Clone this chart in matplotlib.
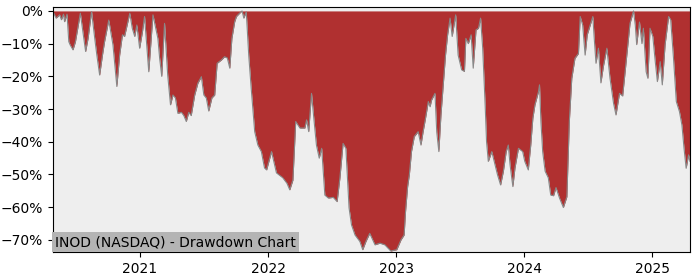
import matplotlib
matplotlib.use("Agg")
import matplotlib.pyplot as plt
import matplotlib.dates as mdates
from matplotlib.ticker import PercentFormatter
import pandas as pd

# drawdown of INOD (percent below running high)
dates = [
    "2020-04-28", "2020-04-30", "2020-05-07", "2020-05-17", "2020-05-22", "2020-05-28",
    "2020-05-31", "2020-06-07", "2020-06-12", "2020-06-16", "2020-06-24", "2020-07-01",
    "2020-07-15", "2020-07-30", "2020-08-06", "2020-08-16", "2020-08-25", "2020-08-31",
    "2020-09-08", "2020-09-16", "2020-09-22", "2020-10-04", "2020-10-16", "2020-10-27",
    "2020-11-04", "2020-11-12", "2020-11-18", "2020-12-03", "2020-12-10", "2020-12-17",
    "2020-12-23", "2020-12-31", "2021-01-08", "2021-01-14", "2021-01-26", "2021-02-07",
    "2021-02-21", "2021-02-26", "2021-03-04", "2021-03-12", "2021-03-21", "2021-03-29",
    "2021-04-05", "2021-04-12", "2021-04-19", "2021-04-29", "2021-05-06", "2021-05-13",
    "2021-05-20", "2021-05-27", "2021-06-06", "2021-06-15", "2021-06-25", "2021-07-02",
    "2021-07-09", "2021-07-16", "2021-07-25", "2021-08-02", "2021-08-09", "2021-08-21",
    "2021-08-30", "2021-09-07", "2021-09-14", "2021-09-20", "2021-09-28", "2021-10-03",
    "2021-10-12", "2021-10-19", "2021-10-24", "2021-10-31", "2021-11-07", "2021-11-14",
    "2021-11-24", "2021-12-03", "2021-12-13", "2021-12-22", "2021-12-28", "2022-01-11",
    "2022-01-25", "2022-02-12", "2022-02-24", "2022-03-04", "2022-03-13", "2022-03-21",
    "2022-04-02", "2022-04-16", "2022-04-21", "2022-04-27", "2022-05-05", "2022-05-12",
    "2022-05-19", "2022-05-27", "2022-06-03", "2022-06-12", "2022-06-22", "2022-07-06",
    "2022-07-17", "2022-07-25", "2022-08-03", "2022-08-11", "2022-08-20", "2022-08-27",
    "2022-09-06", "2022-09-20", "2022-09-28", "2022-10-07", "2022-10-18", "2022-11-02",
    "2022-11-16", "2022-11-30", "2022-12-17", "2023-01-03", "2023-01-15", "2023-01-24",
    "2023-01-28", "2023-02-03", "2023-02-08", "2023-02-14", "2023-02-22", "2023-03-05",
    "2023-03-13", "2023-03-19", "2023-03-26", "2023-04-03", "2023-04-08", "2023-04-12",
    "2023-04-22", "2023-04-27", "2023-05-03", "2023-05-09", "2023-05-16", "2023-05-22",
    "2023-05-28", "2023-06-04", "2023-06-10", "2023-06-20", "2023-06-27", "2023-07-07",
    "2023-07-15", "2023-07-19", "2023-07-26", "2023-08-03", "2023-08-09", "2023-08-17",
    "2023-08-24", "2023-08-30", "2023-09-05", "2023-09-12", "2023-09-16", "2023-09-21",
    "2023-10-01", "2023-10-10", "2023-10-17", "2023-10-26", "2023-11-03", "2023-11-11",
    "2023-11-17", "2023-11-22", "2023-11-30", "2023-12-06", "2023-12-16", "2023-12-28",
    "2024-01-03", "2024-01-13", "2024-01-20", "2024-01-26", "2024-02-01", "2024-02-11",
    "2024-02-14", "2024-02-18", "2024-02-23", "2024-03-01", "2024-03-10", "2024-03-17",
    "2024-03-25", "2024-04-01", "2024-04-11", "2024-04-22", "2024-05-02", "2024-05-09",
    "2024-05-16", "2024-05-25", "2024-06-04", "2024-06-09", "2024-06-16", "2024-06-23",
    "2024-06-29", "2024-07-09", "2024-07-15", "2024-07-19", "2024-07-24", "2024-07-31",
    "2024-08-07", "2024-08-14", "2024-08-24", "2024-09-02", "2024-09-12", "2024-09-19",
    "2024-09-29", "2024-10-08", "2024-10-18", "2024-10-29", "2024-11-08", "2024-11-13",
    "2024-11-17", "2024-11-25", "2024-12-02", "2024-12-06", "2024-12-14", "2024-12-19",
    "2024-12-25", "2025-01-02", "2025-01-09", "2025-01-15", "2025-01-23", "2025-01-29",
    "2025-02-06", "2025-02-16", "2025-02-22", "2025-03-02", "2025-03-10", "2025-03-19",
    "2025-03-26", "2025-04-01", "2025-04-07", "2025-04-14", "2025-04-18",
]

drawdown_pct = [
    -0.5, -0.7, -2.2, -1.2, -2.7, -1.0,
    -3.3, -1.0, -9.4, -10.4, -11.9, -9.4,
    -0.7, -12.4, -8.4, -0.2, -8.4, -13.5,
    -19.6, -13.5, -9.4, -2.8, -10.4, -23.1,
    -13.5, -7.3, -7.8, -0.7, -5.3, -7.8,
    -4.3, -11.4, -6.4, -1.7, -18.6, -1.2,
    -8.4, -14.4, -20.0, -3.8, -19.6, -28.7,
    -25.7, -26.6, -31.3, -31.0, -32.0, -33.8,
    -31.0, -32.0, -25.7, -22.1, -20.1, -25.7,
    -26.6, -30.6, -26.6, -25.7, -16.0, -15.0,
    -14.0, -14.4, -17.5, -8.4, -3.3, -1.7,
    -0.7, 0.0, -2.2, -0.3, -13.5, -23.6,
    -36.9, -41.0, -43.0, -48.0, -48.6, -43.0,
    -49.5, -51.0, -52.7, -54.7, -51.7, -33.8,
    -35.8, -35.8, -33.3, -36.9, -25.2, -33.3,
    -41.0, -45.0, -42.0, -56.3, -57.2, -57.0,
    -58.3, -51.0, -40.5, -42.0, -60.2, -65.4,
    -68.5, -70.5, -73.0, -70.5, -68.0, -71.5,
    -71.0, -71.5, -73.4, -73.0, -70.0, -68.5,
    -61.4, -53.7, -50.0, -43.0, -38.4, -36.9,
    -41.0, -37.0, -32.8, -27.7, -29.3, -27.3,
    -25.2, -37.0, -43.0, -31.8, -22.0, -13.5,
    -7.3, -2.2, -7.8, -1.2, -13.5, -18.0,
    -18.5, -8.4, -10.0, -7.3, -17.5, -5.8,
    -5.3, -2.2, -11.4, -28.7, -40.0, -46.0,
    -43.0, -47.0, -50.0, -53.2, -49.0, -43.0,
    -41.0, -47.0, -53.7, -48.0, -42.0, -43.0,
    -46.0, -48.6, -41.0, -32.8, -28.7, -24.7,
    -22.6, -33.8, -43.0, -49.0, -51.0, -56.3,
    -56.5, -54.0, -57.2, -60.1, -56.8, -33.8,
    -20.6, -14.5, -13.0, -1.7, -4.3, -13.5,
    -7.3, -3.8, -1.7, -8.4, -16.0, -11.4,
    -22.0, -17.0, -11.4, -20.6, -28.2, -31.8,
    -25.2, -26.0, -15.5, -3.8, 0.0, -4.3,
    -10.3, -3.4, -10.0, -5.3, -18.6, -20.6,
    -5.3, -7.8, -15.5, -21.6, -15.5, -22.6,
    -10.3, -1.7, -2.7, -14.5, -27.7, -30.8,
    -34.9, -42.0, -48.1, -44.0, -46.0,
]

title = "INOD (NASDAQ) - Drawdown Chart"

df = pd.DataFrame({"date": pd.to_datetime(dates), "dd": [v / 100 for v in drawdown_pct]})

fig = plt.figure(figsize=(7, 2.8), dpi=100)
ax = fig.add_axes([0.0757, 0.1, 0.91, 0.875])
ax.set_facecolor("#eeeeee")

ax.fill_between(df["date"], df["dd"], 0, color="#b03030", linewidth=0)
ax.plot(df["date"], df["dd"], color="#888888", linewidth=0.8)

ax.set_xlim(df["date"].iloc[0], df["date"].iloc[-1])
ax.set_ylim(-0.737, 0.012)
ax.yaxis.set_major_formatter(PercentFormatter(xmax=1, decimals=0))
ax.xaxis.set_major_locator(mdates.YearLocator())
ax.xaxis.set_major_formatter(mdates.DateFormatter("%Y"))

ax.text(0.003, 0.012, title, transform=ax.transAxes, fontsize=10,
        ha="left", va="bottom",
        bbox=dict(facecolor="#b4b4b4", edgecolor="none", pad=2))

fig.savefig("out.png", dpi=100)
